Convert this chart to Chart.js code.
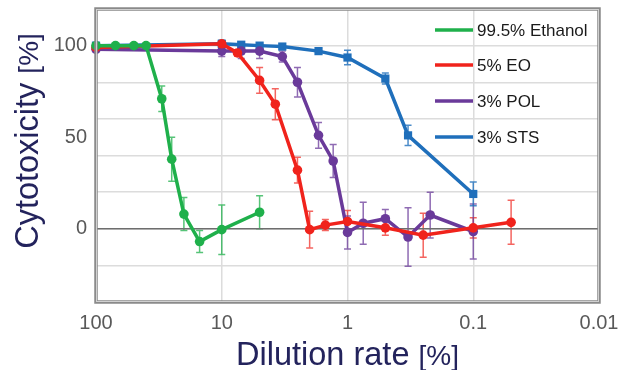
<!DOCTYPE html>
<html>
<head>
<meta charset="utf-8">
<script src="https://cdn.jsdelivr.net/npm/chart.js@4/dist/chart.umd.min.js"></script>
<style>
  html, body { margin: 0; padding: 0; background: #fff; }
  #wrap { width: 636px; height: 370px; }
</style>
</head>
<body>
<div id="wrap"><canvas id="cytoChart" width="636" height="370"></canvas></div>
<script>
"use strict";

// axis ticks
const xTickValues = [100, 10, 1, 0.1, 0.01];
const xTickLabels = ['100', '10', '1', '0.1', '0.01'];
const yTickLabels = [0, 50, 100];
const yGridValues = [-40, -20, 0, 20, 40, 60, 80, 100, 120];

// 99.5% Ethanol
const ethanolX = [100, 70, 50, 40, 30, 25, 20, 15, 10, 5];
const ethanolY = [100, 100, 100, 100, 71, 38, 8, -7, -0.5, 9];
const ethanolErr = [0, 0, 0, 0, 7, 12, 9, 6, 13.5, 9];

// 5% EO
const eoX = [100, 10, 7.5, 5, 3.75, 2.5, 2, 1.5, 1, 0.5, 0.25, 0.1, 0.05];
const eoY = [99, 101, 96, 81, 68, 32, -0.5, 2, 4, 0.5, -3.5, 0.5, 3.5];
const eoErr = [0, 1, 1.5, 7, 8.5, 7, 10, 3, 6, 4, 12, 5.5, 12];

// 3% POL
const polX = [100, 10, 7, 5, 3.3, 2.5, 1.7, 1.3, 1, 0.75, 0.5, 0.33, 0.22, 0.1];
const polY = [98, 97, 97, 97, 94, 80, 51, 37, -2, 3, 5.5, -4.5, 7.5, -1.5];
const polErr = [0, 3, 4, 4, 3, 8, 7, 9, 9, 11.5, 5, 16, 12.5, 15];

// 3% STS
const stsX = [100, 10, 7, 5, 3.3, 1.7, 1, 0.5, 0.33, 0.1];
const stsY = [100, 101, 100.5, 100, 99.5, 97, 93.5, 82, 51, 19];
const stsErr = [0, 2, 1.5, 1.5, 1.5, 1.5, 4, 3, 5.5, 6.5];

const FONT = "'Liberation Sans', Arial, sans-serif";

function toPoints(xs, ys, es) {
  return xs.map((x, i) => ({ x: x, y: ys[i], err: es[i] }));
}

function makeSet(label, xs, ys, es, color, errColor, style, radius) {
  return {
    label: label,
    data: toPoints(xs, ys, es),
    borderColor: color,
    backgroundColor: color,
    borderWidth: 3.5,
    pointStyle: style,
    pointRadius: radius,
    pointBorderWidth: 0,
    pointBackgroundColor: color,
    errColor: errColor,
    tension: 0,
    clip: false
  };
}

// error bars, drawn under the lines
const errorBars = {
  id: 'errorBars',
  beforeDatasetsDraw(chart) {
    const ctx = chart.ctx;
    const ys = chart.scales.y;
    chart.data.datasets.forEach((ds, di) => {
      const meta = chart.getDatasetMeta(di);
      ctx.save();
      ctx.strokeStyle = ds.errColor;
      ctx.lineWidth = 1.5;
      meta.data.forEach((pt, i) => {
        const d = ds.data[i];
        if (!d.err) return;
        const top = ys.getPixelForValue(d.y + d.err);
        const bot = ys.getPixelForValue(d.y - d.err);
        ctx.beginPath();
        ctx.moveTo(pt.x, top); ctx.lineTo(pt.x, bot);
        ctx.moveTo(pt.x - 3.5, top); ctx.lineTo(pt.x + 3.5, top);
        ctx.moveTo(pt.x - 3.5, bot); ctx.lineTo(pt.x + 3.5, bot);
        ctx.stroke();
      });
      ctx.restore();
    });
  }
};

// frame, zero line, titles and legend
const decorations = {
  id: 'decorations',
  beforeDatasetsDraw(chart) {
    const ctx = chart.ctx;
    const a = chart.chartArea;
    const y0 = chart.scales.y.getPixelForValue(0);
    ctx.save();
    ctx.strokeStyle = '#6e6e6e';
    ctx.lineWidth = 1.5;
    ctx.beginPath();
    ctx.moveTo(a.left, y0); ctx.lineTo(a.right, y0);
    ctx.stroke();
    ctx.restore();
  },
  afterDraw(chart) {
    const ctx = chart.ctx;
    const a = chart.chartArea;
    ctx.save();
    // frame
    ctx.strokeStyle = '#8a8a8a';
    ctx.lineWidth = 3.5;
    ctx.strokeRect(a.left, a.top, a.right - a.left, a.bottom - a.top);
    ctx.strokeStyle = '#d0d0d0';
    ctx.lineWidth = 1;
    ctx.strokeRect(a.left + 0.5, a.top + 0.5, a.right - a.left - 1, a.bottom - a.top - 1);

    // legend
    const lx = 435, lx2 = 473, rows = [30, 65, 101, 137];
    chart.data.datasets.forEach((ds, i) => {
      ctx.strokeStyle = ds.borderColor;
      ctx.lineWidth = 3.5;
      ctx.beginPath();
      ctx.moveTo(lx, rows[i]); ctx.lineTo(lx2, rows[i]);
      ctx.stroke();
      ctx.fillStyle = '#1a1a1a';
      ctx.font = '17px ' + FONT;
      ctx.textAlign = 'left';
      ctx.textBaseline = 'middle';
      ctx.fillText(ds.label, 477, rows[i] + 1);
    });

    // axis titles
    const navy = '#23235c';
    ctx.fillStyle = navy;
    ctx.textBaseline = 'alphabetic';
    const mainX = 'Dilution rate';
    ctx.font = '32.5px ' + FONT;
    const w1 = ctx.measureText(mainX + ' ').width;
    ctx.font = '28px ' + FONT;
    const w2 = ctx.measureText('[%]').width;
    const cx = (a.left + a.right) / 2;
    let sx = cx - (w1 + w2) / 2;
    ctx.textAlign = 'left';
    ctx.font = '32.5px ' + FONT;
    ctx.fillText(mainX + ' ', sx, 365);
    ctx.font = '28px ' + FONT;
    ctx.fillText('[%]', sx + w1, 365);

    const mainY = 'Cytotoxicity';
    ctx.font = '32.5px ' + FONT;
    const h1 = ctx.measureText(mainY + ' ').width;
    ctx.font = '28px ' + FONT;
    const h2 = ctx.measureText('[%]').width;
    ctx.translate(38, 141);
    ctx.rotate(-Math.PI / 2);
    sx = -(h1 + h2) / 2;
    ctx.font = '32.5px ' + FONT;
    ctx.fillText(mainY + ' ', sx, 0);
    ctx.font = '28px ' + FONT;
    ctx.fillText('[%]', sx + h1, 0);
    ctx.restore();
  }
};

const ctx = document.getElementById('cytoChart').getContext('2d');
const chart = new Chart(ctx, {
  type: 'line',
  data: {
    datasets: [
      makeSet('99.5% Ethanol', ethanolX, ethanolY, ethanolErr, '#1fb04b', 'rgba(31,176,75,0.75)', 'circle', 4.8),
      makeSet('5% EO', eoX, eoY, eoErr, '#f0231c', 'rgba(240,35,28,0.7)', 'circle', 4.8),
      makeSet('3% POL', polX, polY, polErr, '#6a3a9a', 'rgba(106,58,154,0.75)', 'circle', 4.8),
      makeSet('3% STS', stsX, stsY, stsErr, '#1f6fbb', 'rgba(31,111,187,0.8)', 'rect', 5.8)
    ]
  },
  options: {
    responsive: false,
    animation: false,
    layout: { padding: { top: 9, right: 37, left: 0, bottom: 0 } },
    plugins: {
      legend: { display: false },
      tooltip: { enabled: false }
    },
    scales: {
      x: {
        type: 'logarithmic',
        reverse: true,
        min: 0.01,
        max: 100,
        afterBuildTicks(scale) {
          scale.ticks = xTickValues.map(v => ({ value: v }));
        },
        afterFit(scale) {
          scale.height = 68;
          scale.paddingLeft = 0;
          scale.paddingRight = 0;
        },
        border: { display: false },
        grid: {
          drawTicks: false,
          color: '#dcdcdc',
          lineWidth: 1.5
        },
        ticks: {
          autoSkip: false,
          maxRotation: 0,
          padding: 9,
          color: '#595959',
          font: { family: FONT, size: 20 },
          callback(value) {
            const i = xTickValues.indexOf(value);
            return i >= 0 ? xTickLabels[i] : '';
          }
        }
      },
      y: {
        type: 'linear',
        min: -40,
        max: 120,
        afterBuildTicks(scale) {
          const vals = yGridValues.concat(yTickLabels.filter(v => yGridValues.indexOf(v) < 0));
          vals.sort((p, q) => p - q);
          scale.ticks = vals.map(v => ({ value: v }));
        },
        afterFit(scale) {
          scale.width = 96;
          scale.paddingTop = 0;
          scale.paddingBottom = 0;
        },
        border: { display: false },
        grid: {
          drawTicks: false,
          lineWidth: 1.5,
          color(c) {
            return yGridValues.indexOf(c.tick.value) >= 0 ? '#dcdcdc' : 'rgba(0,0,0,0)';
          }
        },
        ticks: {
          autoSkip: false,
          padding: 9,
          color: '#595959',
          font: { family: FONT, size: 20 },
          callback(value) {
            return yTickLabels.indexOf(value) >= 0 ? String(value) : '';
          }
        }
      }
    }
  },
  plugins: [errorBars, decorations]
});
</script>
</body>
</html>
